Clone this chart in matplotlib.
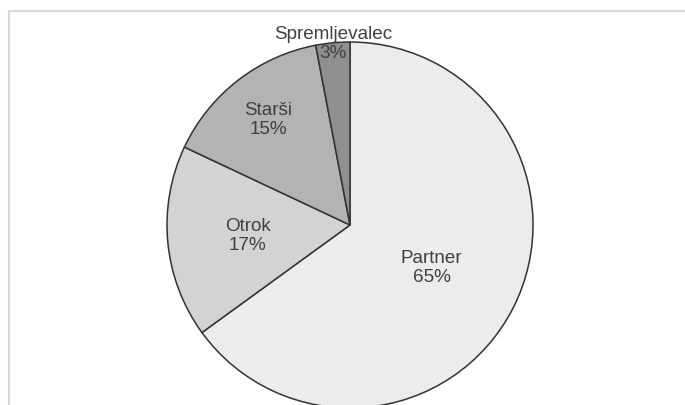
import numpy as np
import matplotlib.pyplot as plt
from matplotlib.patches import Rectangle

# Data (clockwise from 12 o'clock)
labels = ['Partner', 'Otrok', 'Starši', 'Spremljevalec']
shares = [65, 17, 15, 3]
colors = ['#ececec', '#d3d3d3', '#b3b3b3', '#8f8f8f']
# radial position of each label, as a fraction of the radius
label_dist = [0.50, 0.56, 0.73, 1.0]

W, H = 685, 406
fig = plt.figure(figsize=(W / 100, H / 100), dpi=100)
ax = fig.add_axes([0, 0, 1, 1])

# light chart-area border (runs off the right and bottom edges)
ax.add_patch(Rectangle((9, -20), W + 20, H - 12 + 20, fill=False,
                       edgecolor='#d9d9d9', linewidth=1.5))

cx, cy, r = 350, H - 226, 183
wedges, _ = ax.pie(shares, colors=colors, startangle=90, counterclock=False,
                   center=(cx, cy), radius=r, frame=True,
                   wedgeprops=dict(edgecolor='#333333', linewidth=1.1))
ax.set_xlim(0, W)
ax.set_ylim(0, H)
ax.set_aspect('equal')
ax.axis('off')

for w, lab, val, d in zip(wedges, labels, shares, label_dist):
    mid = np.deg2rad((w.theta1 + w.theta2) / 2)
    x = cx + d * r * np.cos(mid)
    y = cy + d * r * np.sin(mid)
    ax.text(x, y, f'{lab}\n{val}%', ha='center', va='center',
            fontsize=13.6, color='#404040', family='Liberation Sans',
            linespacing=1.15)

fig.savefig('out.png', dpi=100)
